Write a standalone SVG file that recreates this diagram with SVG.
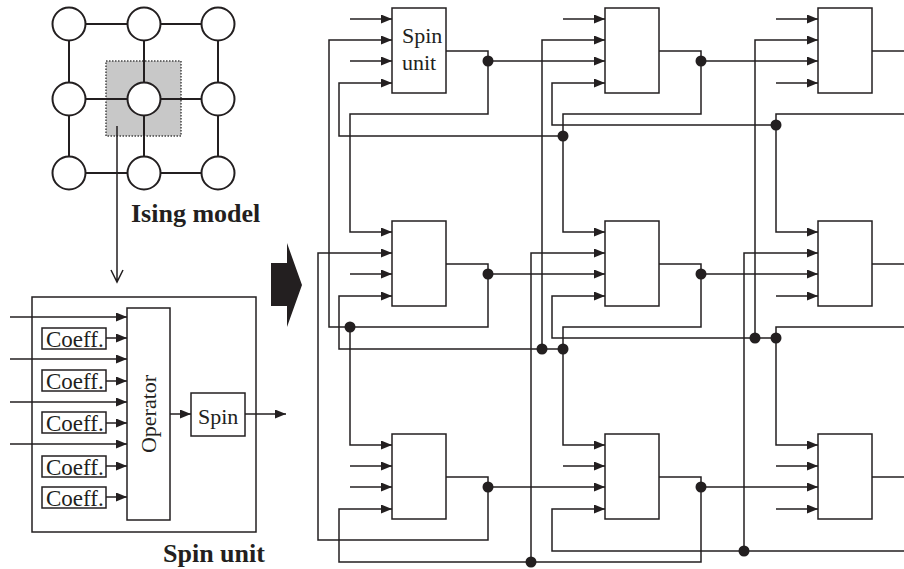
<svg xmlns="http://www.w3.org/2000/svg" width="904" height="569" viewBox="0 0 904 569">
<style>
.w{fill:none;stroke:#231f20;stroke-width:1.5}
.box{fill:#fff;stroke:#231f20;stroke-width:1.5}
.c{fill:#fff;stroke:#231f20;stroke-width:2}
.e{stroke:#231f20;stroke-width:2;fill:none}
.dot{fill:#231f20}
.t{font-family:"Liberation Serif","Times New Roman",serif;font-size:22px;fill:#231f20}
.tc{font-family:"Liberation Serif","Times New Roman",serif;font-size:23px;fill:#231f20}
.tb{font-family:"Liberation Serif","Times New Roman",serif;font-size:26px;font-weight:bold;fill:#231f20}
</style>
<defs>
<marker id="ah" viewBox="0 0 11 9" refX="11" refY="4.5" markerWidth="11" markerHeight="9" markerUnits="userSpaceOnUse" orient="auto" preserveAspectRatio="none">
<path d="M0,0 L11,4.5 L0,9 z" fill="#231f20"/>
</marker>
</defs>
<rect width="904" height="569" fill="#fff"/>

<g id="ising-model">
<rect x="106" y="61" width="75" height="75" fill="#c8c8c8" stroke="#444" stroke-width="1.5" stroke-dasharray="1.5,1.5"/>
<path class="e" d="M69,24H218M69,99H218M69,173H218M69,24V173M144,24V173M218,24V173"/>
<circle class="c" cx="69" cy="24" r="16.5"/>
<circle class="c" cx="144" cy="24" r="16.5"/>
<circle class="c" cx="218" cy="24" r="16.5"/>
<circle class="c" cx="69" cy="99" r="16.5"/>
<circle class="c" cx="144" cy="99" r="16.5"/>
<circle class="c" cx="218" cy="99" r="16.5"/>
<circle class="c" cx="69" cy="173" r="16.5"/>
<circle class="c" cx="144" cy="173" r="16.5"/>
<circle class="c" cx="218" cy="173" r="16.5"/>
<text class="tb" x="131" y="222">Ising model</text>
</g>

<g id="zoom-arrow">
<path class="w" d="M117,126V282M111,270L117,282L123,270"/>
</g>

<g id="spin-unit-detail">
<rect class="box" x="32" y="297" width="224" height="235"/>
<rect class="box" x="127" y="308" width="43" height="212"/>
<text class="t" transform="translate(156,414) rotate(-90)" text-anchor="middle">Operator</text>
<rect class="box" x="191" y="393" width="54" height="43"/>
<text class="t" x="198" y="424">Spin</text>
<rect class="box" x="42" y="328" width="64" height="21"/>
<text class="tc" x="46" y="347">Coeff.</text>
<rect class="box" x="42" y="370" width="64" height="21"/>
<text class="tc" x="46" y="389">Coeff.</text>
<rect class="box" x="42" y="412" width="64" height="21"/>
<text class="tc" x="46" y="431">Coeff.</text>
<rect class="box" x="42" y="456" width="64" height="21"/>
<text class="tc" x="46" y="475">Coeff.</text>
<rect class="box" x="42" y="487" width="64" height="21"/>
<text class="tc" x="46" y="506">Coeff.</text>
<g class="w" marker-end="url(#ah)">
<path d="M10,317H127"/>
<path d="M10,359H127"/>
<path d="M10,402H127"/>
<path d="M10,444H127"/>
<path d="M106,338H127"/>
<path d="M106,381H127"/>
<path d="M106,423H127"/>
<path d="M106,466H127"/>
<path d="M106,497H127"/>
<path d="M170,414H191"/>
<path d="M245,414H286"/>
</g>
<text class="tb" x="163" y="562">Spin unit</text>
</g>

<g id="big-arrow">
<polygon points="271,263 287,263 287,243 302,285 287,327 287,306 271,306" fill="#231f20"/>
</g>

<g id="su-1-1"><rect class="box" x="392" y="8" width="54" height="85"/><text class="t" x="402" y="43">Spin</text><text class="t" x="402" y="70">unit</text></g>
<g id="su-1-2"><rect class="box" x="605" y="8" width="54" height="85"/></g>
<g id="su-1-3"><rect class="box" x="818" y="8" width="54" height="85"/></g>
<g id="su-2-1"><rect class="box" x="392" y="221" width="54" height="85"/></g>
<g id="su-2-2"><rect class="box" x="605" y="221" width="54" height="85"/></g>
<g id="su-2-3"><rect class="box" x="818" y="221" width="54" height="85"/></g>
<g id="su-3-1"><rect class="box" x="392" y="434" width="54" height="85"/></g>
<g id="su-3-2"><rect class="box" x="605" y="434" width="54" height="85"/></g>
<g id="su-3-3"><rect class="box" x="818" y="434" width="54" height="85"/></g>

<g id="connectors">
<g class="w">
<path d="M446,51H488V61"/>
<path d="M659,51H701V61"/>
<path d="M872,51H904"/>
<path d="M446,264H488V274"/>
<path d="M659,264H701V274"/>
<path d="M872,264H904"/>
<path d="M446,477H488V487"/>
<path d="M659,477H701V487"/>
<path d="M872,477H904"/>
</g>
<g class="w" marker-end="url(#ah)">
<path d="M350,19H392"/>
<path d="M350,61H392"/>
<path d="M563,19H605"/>
<path d="M776,19H818"/>
<path d="M776,83H818"/>
<path d="M488,61H605"/>
<path d="M488,61V114H350V232H392"/>
<path d="M701,61H818"/>
<path d="M701,61V114H563V232H605"/>
<path d="M563,136H339V83H392"/>
<path d="M904,114H776V232H818"/>
<path d="M776,125H552V83H605"/>

<path d="M350,274H392"/>
<path d="M776,296H818"/>
<path d="M488,274H605"/>
<path d="M488,274V327H329V40H392"/>
<path d="M350,327V445H392"/>
<path d="M701,274H818"/>
<path d="M701,274V327H563V445H605"/>
<path d="M563,349H339V296H392"/>
<path d="M542,349V40H605"/>
<path d="M904,327H776V445H818"/>
<path d="M776,338H552V296H605"/>
<path d="M755,338V40H818"/>

<path d="M350,466H392"/>
<path d="M350,487H392"/>
<path d="M563,466H605"/>
<path d="M776,466H818"/>
<path d="M776,509H818"/>
<path d="M488,487H605"/>
<path d="M488,487V540H318V253H392"/>
<path d="M701,487H818"/>
<path d="M701,487V562H339V509H392"/>
<path d="M531,562V253H605"/>
<path d="M904,551H552V509H605"/>
<path d="M744,551V253H818"/>
</g>
<g class="dot">
<circle cx="488" cy="61" r="5.5"/>
<circle cx="701" cy="61" r="5.5"/>
<circle cx="563" cy="136" r="5.5"/>
<circle cx="776" cy="125" r="5.5"/>
<circle cx="488" cy="274" r="5.5"/>
<circle cx="701" cy="274" r="5.5"/>
<circle cx="350" cy="327" r="5.5"/>
<circle cx="563" cy="349" r="5.5"/>
<circle cx="542" cy="349" r="5.5"/>
<circle cx="776" cy="338" r="5.5"/>
<circle cx="755" cy="338" r="5.5"/>
<circle cx="488" cy="487" r="5.5"/>
<circle cx="701" cy="487" r="5.5"/>
<circle cx="531" cy="562" r="5.5"/>
<circle cx="744" cy="551" r="5.5"/>
</g>
</g>
</svg>
